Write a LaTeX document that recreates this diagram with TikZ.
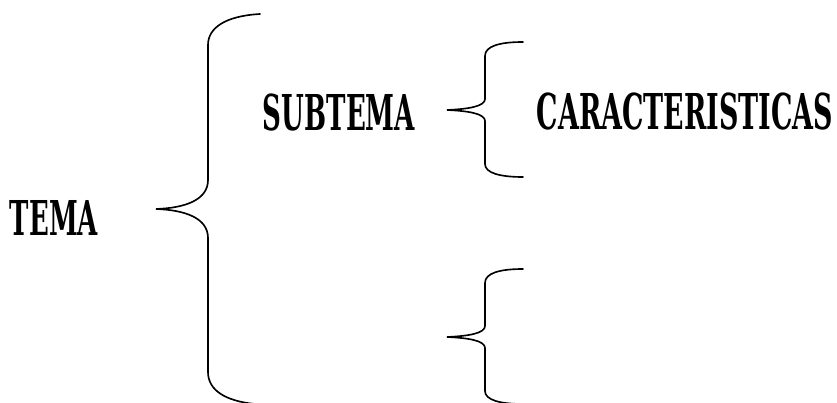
\documentclass[tikz,border=0pt]{standalone}
\usepackage{graphicx}
\usepackage{fontspec}
\newfontfamily\rotulofont{DejaVu Serif Condensed}
\usepackage{tikz}

\tikzset{
  bracket/.style={line width=1.4pt, line cap=round},
  titulo/.style={inner sep=0pt, outer sep=0pt}
}
\newcommand{\rotulo}[3]{\resizebox{#1}{#2}{\rotulofont\bfseries #3}}

\begin{document}
\begin{tikzpicture}[x=0.03cm, y=-0.03cm]
 \useasboundingbox (0,0) rectangle (837,403);

 \node[titulo] (tema) at (54,217.5) {\rotulo{2.64cm}{1.05cm}{TEMA}};
 \node[titulo] (subtema) at (339,112.5) {\rotulo{4.56cm}{1.1cm}{SUBTEMA}};
 \node[titulo] (carac) at (685,112) {\rotulo{8.88cm}{1.1cm}{CARACTERISTICAS}};

 % big brace
 \draw[bracket] (260,14) .. controls (225,16) and (208,28) .. (208,45)
   -- (208,180) .. controls (208,200) and (185,208) .. (156,209)
   .. controls (185,210) and (208,218) .. (208,238)
   -- (208,372) .. controls (208,390) and (225,401) .. (255,404);

 % brace of subtema
 \draw[bracket] (523,42) .. controls (500,42) and (485,46) .. (485,56)
   -- (485,99) .. controls (485,106) and (470,109) .. (447,110)
   .. controls (470,111) and (485,114) .. (485,121)
   -- (485,164) .. controls (485,173) and (500,177) .. (523,177);

 % empty brace
 \draw[bracket] (523,269) .. controls (500,269) and (485,273) .. (485,283)
   -- (485,326) .. controls (485,333) and (470,336) .. (447,337)
   .. controls (470,338) and (485,341) .. (485,348)
   -- (485,391) .. controls (485,400) and (500,404) .. (523,404);

\end{tikzpicture}
\end{document}
